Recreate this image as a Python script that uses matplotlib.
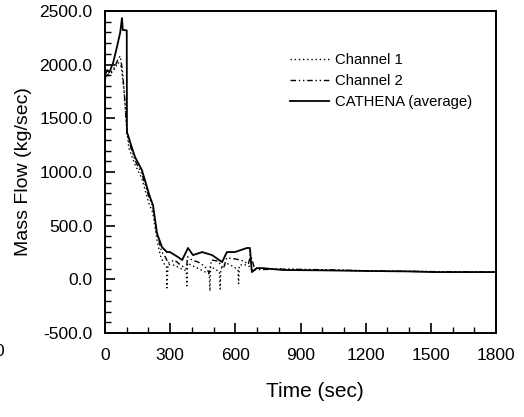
import matplotlib
matplotlib.use("Agg")
import matplotlib.pyplot as plt
from matplotlib.ticker import MultipleLocator, FormatStrFormatter

plt.rcParams['font.family'] = ['Liberation Sans', 'DejaVu Sans']

# CATHENA (average)
t_cat = [0, 10, 20, 37, 55, 70, 78, 82, 100, 101, 106, 120, 138, 170, 207, 221,
         239, 262, 285, 299, 336, 355, 382, 405, 447, 493, 539, 561, 598, 653,
         667, 676, 699, 722, 819, 1000, 1206, 1400, 1510, 1800]
v_cat = [1904, 1950, 1930, 2015, 2165, 2300, 2435, 2323, 2320, 1360, 1345, 1250,
         1140, 1017, 766, 692, 431, 301, 254, 254, 208, 180, 292, 226, 254, 226,
         161, 254, 254, 292, 292, 68, 105, 105, 87, 84, 78, 74, 68, 68]

# Channel 2 (dash-dot)
t_ch2 = [0, 20, 40, 60, 70, 80, 90, 100, 110, 140, 170, 200, 220, 240, 260, 280,
         290, 320, 350, 375, 380, 400, 430, 460, 480, 490, 520, 545, 560, 600,
         640, 660, 670, 690, 800, 1000, 1200, 1500, 1800]
v_ch2 = [1880, 1920, 1960, 2050, 2080, 1950, 1700, 1400, 1280, 1100, 980, 780,
         680, 430, 260, 200, 150, 180, 130, 100, 210, 180, 160, 120, 60, 180, 170,
         100, 200, 190, 170, 140, 230, 90, 95, 90, 80, 72, 68]

# Channel 1 (dotted)
t_ch1 = [0, 20, 40, 60, 75, 88, 100, 110, 140, 170, 200, 220, 240, 255, 270, 283,
         285, 290, 320, 350, 374, 377, 380, 410, 440, 470, 480, 483, 486, 510, 527,
         530, 533, 560, 590, 612, 615, 618, 640, 665, 675, 700, 900, 1200, 1500, 1800]
v_ch1 = [1870, 1900, 1950, 2020, 1980, 1750, 1400, 1220, 1060, 940, 720, 620, 360,
         220, 150, 120, -80, 140, 130, 100, 80, -60, 150, 120, 90, 60, 50, -110, 120,
         90, 70, -90, 100, 150, 120, 90, -40, 130, 140, 120, 90, 100, 92, 80, 72, 66]

fig = plt.figure(figsize=(5.24, 4.17), dpi=100)
ax = fig.add_axes([0.2004, 0.2014, 0.7462, 0.7722])

ax.plot(t_ch1, v_ch1, color='black', lw=1.0, linestyle=(0, (1, 2)), label='Channel 1')
ax.plot(t_ch2, v_ch2, color='black', lw=1.0, linestyle=(0, (4, 2, 1, 2, 1, 2)), label='Channel 2')
ax.plot(t_cat, v_cat, color='black', lw=1.3, label='CATHENA (average)')

ax.set_xlim(0, 1800)
ax.set_ylim(-500, 2500)
ax.xaxis.set_major_locator(MultipleLocator(300))
ax.xaxis.set_minor_locator(MultipleLocator(100))
ax.yaxis.set_major_locator(MultipleLocator(500))
ax.yaxis.set_minor_locator(MultipleLocator(100))
ax.yaxis.set_major_formatter(FormatStrFormatter('%.1f'))

ax.tick_params(which='both', direction='in', top=False, right=False, labelsize=12.5)
ax.tick_params(which='major', length=7, width=1.2)
ax.tick_params(which='minor', length=4, width=1.0)
ax.tick_params(axis='x', pad=11)
ax.tick_params(axis='y', pad=9)
for sp in ax.spines.values():
    sp.set_linewidth(1.4)

ax.set_xlabel('Time (sec)', fontsize=15)
ax.set_ylabel('Mass Flow (kg/sec)', fontsize=14)
ax.xaxis.set_label_coords(0.537, -0.152)
ax.yaxis.set_label_coords(-0.187, 0.5)

ax.legend(loc='upper left', bbox_to_anchor=(0.44, 0.91), frameon=False, fontsize=10.7,
          handlelength=2.6, handletextpad=0.4, labelspacing=0.45)

# clipped stray label at the left edge of the scan
fig.text(-0.01, 0.147, '0', fontsize=12.5)

fig.savefig('out.png', dpi=100)
